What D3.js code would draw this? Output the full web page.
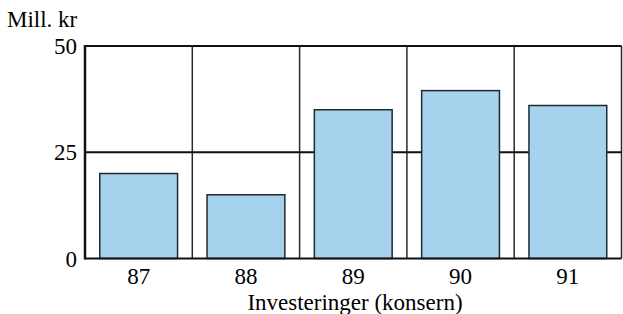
<!DOCTYPE html>
<html>
<head>
<meta charset="utf-8">
<script src="https://cdn.jsdelivr.net/npm/d3@7"></script>
</head>
<body style="margin:0">
<script>
// chart data
const years = ['87', '88', '89', '90', '91']
const investments = [20, 15, 35, 39.5, 36]
const yTicks = [0, 25, 50]

const width = 623, height = 314
const margin = { top: 46, right: 1, bottom: 56, left: 85 }

const svg = d3.select('body').append('svg')
    .attr('width', width)
    .attr('height', height)
    .attr('font-family', 'Liberation Serif')

const x = d3.scaleBand()
    .domain(years)
    .range([margin.left, width - margin.right - 0.5])
    .padding(0)

const y = d3.scaleLinear()
    .domain([0, 50])
    .range([height - margin.bottom + 0.5, margin.top])

// vertical grid lines at band edges
svg.append('g')
    .selectAll('line')
    .data(years.slice(1).concat(['end']))
    .enter()
    .append('line')
    .attr('x1', d => d === 'end' ? x.range()[1] : x(d))
    .attr('x2', d => d === 'end' ? x.range()[1] : x(d))
    .attr('y1', y(50))
    .attr('y2', y(0))
    .attr('stroke', '#2a2a2a')
    .attr('stroke-width', 1.5)

// horizontal line at 25 (behind the bars)
svg.append('line')
    .attr('x1', x.range()[0]).attr('x2', x.range()[1])
    .attr('y1', y(25)).attr('y2', y(25))
    .attr('stroke', '#111')
    .attr('stroke-width', 2.2)

// top border
svg.append('line')
    .attr('x1', x.range()[0]).attr('x2', x.range()[1])
    .attr('y1', y(50)).attr('y2', y(50))
    .attr('stroke', '#111')
    .attr('stroke-width', 2.2)

// bars, narrower than the band and centered in it
const barFrac = 0.725
svg.append('g')
    .selectAll('rect')
    .data(investments)
    .enter()
    .append('rect')
    .attr('x', (d, i) => x(years[i]) + x.bandwidth() * (1 - barFrac) / 2)
    .attr('width', x.bandwidth() * barFrac)
    .attr('y', d => y(d))
    .attr('height', d => y(0) - y(d))
    .attr('fill', '#a7d2ed')
    .attr('stroke', '#1e2a30')
    .attr('stroke-width', 1.5)

// bottom axis line and left axis line
svg.append('line')
    .attr('x1', x.range()[0]).attr('x2', x.range()[1])
    .attr('y1', y(0)).attr('y2', y(0))
    .attr('stroke', '#111')
    .attr('stroke-width', 2.2)
svg.append('line')
    .attr('x1', x.range()[0]).attr('x2', x.range()[0])
    .attr('y1', y(50) - 1).attr('y2', y(0) + 1)
    .attr('stroke', '#111')
    .attr('stroke-width', 2.5)

// y tick labels
svg.selectAll('text.ytick')
    .data(yTicks)
    .enter()
    .append('text')
    .attr('class', 'ytick')
    .attr('x', margin.left - 8)
    .attr('y', d => y(d) + 8)
    .attr('text-anchor', 'end')
    .attr('font-size', 23)
    .style('font-family', 'Liberation Serif')
    .text(d => d)

// x tick labels
svg.selectAll('text.xtick')
    .data(years)
    .enter()
    .append('text')
    .attr('class', 'xtick')
    .attr('x', d => x(d) + x.bandwidth() / 2)
    .attr('y', 284)
    .attr('text-anchor', 'middle')
    .attr('font-size', 23)
    .style('font-family', 'Liberation Serif')
    .text(d => d)

// unit label
svg.append('text')
    .attr('x', 7)
    .attr('y', 27)
    .attr('font-size', 23)
    .style('font-family', 'Liberation Serif')
    .text('Mill. kr')

// axis title
svg.append('text')
    .attr('x', 355)
    .attr('y', 310)
    .attr('text-anchor', 'middle')
    .attr('font-size', 23)
    .style('font-family', 'Liberation Serif')
    .text('Investeringer (konsern)')
</script>
</body>
</html>
